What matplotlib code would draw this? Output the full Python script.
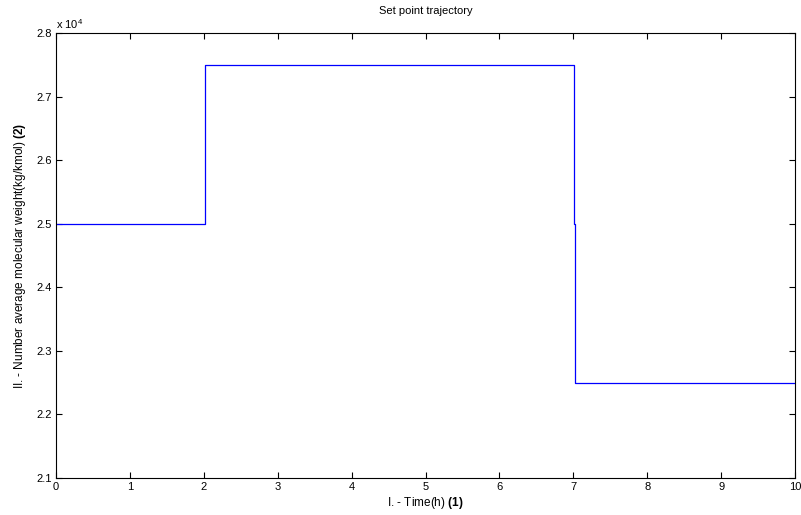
import matplotlib
matplotlib.use("Agg")
import matplotlib.pyplot as plt

plt.rcParams['font.family'] = ['Liberation Sans', 'DejaVu Sans']
plt.rcParams['mathtext.fontset'] = 'custom'
plt.rcParams['mathtext.rm'] = 'Liberation Sans'
plt.rcParams['mathtext.bf'] = 'Liberation Sans:bold'

# step trajectory (time in h, Mn in kg/kmol)
time_h = [0, 2.01, 2.01, 2.02, 2.02, 7.01, 7.01, 7.025, 7.025, 10]
mn_setpoint = [25000, 25000, 26250, 26250, 27500, 27500, 25000, 25000, 22500, 22500]

x_ticks = list(range(0, 11))
y_ticks = [21000, 22000, 23000, 24000, 25000, 26000, 27000, 28000]
y_tick_labels = ['2.1', '2.2', '2.3', '2.4', '2.5', '2.6', '2.7', '2.8']

fig = plt.figure(figsize=(8.01, 5.15), dpi=100)
ax = fig.add_axes([56/801, 37/515, 739/801, 445/515])
ax.plot(time_h, mn_setpoint, color='#0000ff', lw=0.9)
ax.set_xlim(0, 10)
ax.set_ylim(21000, 28000)
ax.set_xticks(x_ticks)
ax.set_yticks(y_ticks)
ax.set_yticklabels(y_tick_labels)
ax.tick_params(direction='in', top=True, right=True, length=4, width=0.8,
               labelsize=8, pad=3)
for s in ax.spines.values():
    s.set_linewidth(0.8)
ax.text(0.0, 1.005, r'x 10$^{4}$', transform=ax.transAxes, fontsize=8,
        ha='left', va='bottom')
ax.set_title('Set point trajectory', fontsize=8, pad=14)
ax.set_xlabel(r'I. - Time(h) $\mathbf{(1)}$', fontsize=8.5, labelpad=2)
ax.set_ylabel(r'II. - Number average molecular weight(kg/kmol) $\mathbf{(2)}$',
              fontsize=8.5, labelpad=6)
fig.savefig('out.png', dpi=100, facecolor='white')
